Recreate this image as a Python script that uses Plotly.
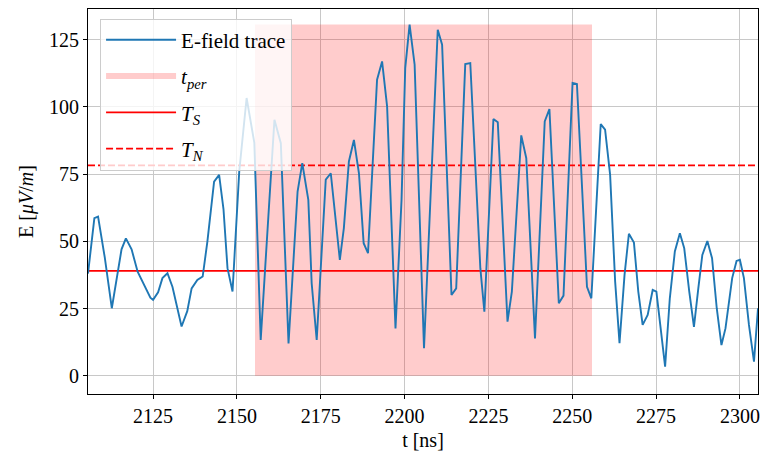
import plotly.graph_objects as go

# ---- data ----
t_ns = [2105.6, 2107.5, 2108.6, 2110.6, 2112.7, 2114.6, 2115.6, 2116.9, 2118.6, 2120.4,
        2122.4, 2124.2, 2125.0, 2126.5, 2127.8, 2129.3, 2130.8, 2133.5, 2135.2, 2136.5,
        2138.2, 2139.8, 2141.2, 2143.2, 2144.7, 2146.0, 2147.2, 2148.7, 2150.7, 2152.9,
        2155.2, 2157.1, 2159.6, 2161.2, 2163.1, 2165.4, 2168.1, 2169.5, 2171.3, 2172.3,
        2173.8, 2176.5, 2178.0, 2180.7, 2181.9, 2183.4, 2184.9, 2186.4, 2187.8, 2189.1,
        2191.8, 2193.3, 2194.8, 2197.3, 2199.1, 2200.2, 2201.5, 2203.0, 2205.8, 2208.8,
        2209.9, 2211.2, 2214.0, 2215.4, 2218.1, 2219.6, 2222.6, 2223.8, 2226.5, 2227.8,
        2230.7, 2232.0, 2234.8, 2236.3, 2238.9, 2241.8, 2243.2, 2246.0, 2247.4, 2250.1,
        2251.4, 2254.4, 2255.7, 2258.5, 2259.8, 2261.3, 2262.8, 2264.1, 2265.6, 2266.9,
        2268.4, 2269.7, 2271.0, 2272.5, 2274.0, 2275.1, 2276.4, 2277.7, 2279.1, 2280.6,
        2282.1, 2283.4, 2284.9, 2286.3, 2287.6, 2288.8, 2290.3, 2291.7, 2293.1, 2294.5,
        2295.7, 2297.7, 2299.0, 2300.0, 2301.2, 2302.7, 2304.2, 2305.4]
E_uVm = [38.0, 58.6, 59.2, 44.0, 25.1, 40.0, 47.0, 51.1, 47.0, 38.7,
         33.4, 29.0, 28.2, 31.0, 36.3, 38.1, 33.0, 18.3, 24.0, 32.5,
         35.6, 36.9, 49.9, 72.2, 74.7, 62.0, 40.0, 31.3, 76.0, 103.3,
         86.6, 13.3, 63.5, 95.2, 86.5, 12.0, 68.5, 79.1, 65.4, 34.4,
         13.3, 72.9, 75.3, 43.1, 54.9, 79.7, 87.7, 75.3, 49.3, 45.6,
         110.1, 116.9, 100.1, 17.6, 65.4, 114.4, 130.6, 115.7, 10.2, 100.0,
         128.7, 123.1, 30.0, 32.5, 115.9, 116.3, 40.0, 23.8, 95.5, 94.3,
         20.1, 31.3, 89.4, 80.9, 13.9, 94.6, 99.2, 27.0, 29.8, 108.9,
         108.5, 33.1, 28.8, 93.6, 91.5, 74.7, 35.0, 12.1, 37.5, 52.8,
         49.5, 31.3, 18.9, 22.6, 31.9, 31.3, 17.6, 3.4, 28.8, 46.2,
         53.0, 47.4, 31.3, 18.2, 32.5, 44.9, 50.1, 43.7, 25.1, 11.4,
         17.6, 36.3, 42.7, 43.1, 36.3, 18.9, 5.2, 25.1]
t_per_start = 2155.4
t_per_end = 2255.9
T_S = 39.0
T_N = 78.2
x_ticks = [2125, 2150, 2175, 2200, 2225, 2250, 2275, 2300]
y_ticks = [0, 25, 50, 75, 100, 125]

FONT = "'Liberation Serif', 'DejaVu Serif', serif"
E_max = max(E_uVm)
t_lo, t_hi = t_ns[0], t_ns[-1]

fig = go.Figure()
fig.add_trace(go.Scatter(
    x=[t_per_start, t_per_start, t_per_end, t_per_end, t_per_start],
    y=[0, E_max, E_max, 0, 0],
    mode="none", fill="toself", fillcolor="rgba(255,0,0,0.2)",
    name="<i>t</i><sub><i>per</i></sub>", legendrank=2, legendgroup="b"))
fig.add_trace(go.Scatter(
    x=[t_lo, t_hi], y=[T_S, T_S], mode="lines",
    line=dict(color="red", width=1.8), name="<i>T</i><sub><i>S</i></sub>",
    legendrank=3, legendgroup="c"))
fig.add_trace(go.Scatter(
    x=[t_lo, t_hi], y=[T_N, T_N], mode="lines",
    line=dict(color="red", width=1.8, dash="7px,3px"),
    name="<i>T</i><sub><i>N</i></sub>", legendrank=4, legendgroup="d"))
fig.add_trace(go.Scatter(
    x=t_ns, y=E_uVm, mode="lines",
    line=dict(color="#1f77b4", width=1.9), name="E-field trace",
    legendrank=1, legendgroup="a"))

fig.update_layout(
    width=761, height=456,
    margin=dict(l=88, r=1, t=9, b=62),
    plot_bgcolor="white", paper_bgcolor="white",
    font=dict(family=FONT, size=20, color="black"),
    showlegend=True,
    legend=dict(x=0.018, y=0.975, xanchor="left", yanchor="top",
                bgcolor="rgba(255,255,255,0.8)", bordercolor="#cccccc",
                borderwidth=1, font=dict(family=FONT, size=21, color="black"),
                itemwidth=70, tracegroupgap=6, traceorder="grouped"),
    xaxis=dict(range=[t_lo, t_hi], tickvals=x_ticks, ticktext=[str(v) for v in x_ticks],
               showgrid=True, gridcolor="#c8c8c8", gridwidth=1,
               showline=True, linecolor="black", linewidth=1, mirror=True,
               ticks="outside", ticklen=4, tickcolor="black", zeroline=False,
               ticklabeloverflow="allow",
               tickfont=dict(family=FONT, size=20, color="black"),
               title=dict(text="t [ns]", font=dict(family=FONT, size=20, color="black"), standoff=6)),
    yaxis=dict(range=[-6.8, 136.4], tickvals=y_ticks, ticktext=[str(v) for v in y_ticks],
               showgrid=True, gridcolor="#c8c8c8", gridwidth=1,
               showline=True, linecolor="black", linewidth=1, mirror=True,
               ticks="outside", ticklen=4, tickcolor="black", zeroline=False,
               tickfont=dict(family=FONT, size=20, color="black"),
               title=dict(text="E [<i>μV</i>/<i>m</i>]", font=dict(family=FONT, size=20, color="black"), standoff=10)),
)

fig.write_html("out.html")
